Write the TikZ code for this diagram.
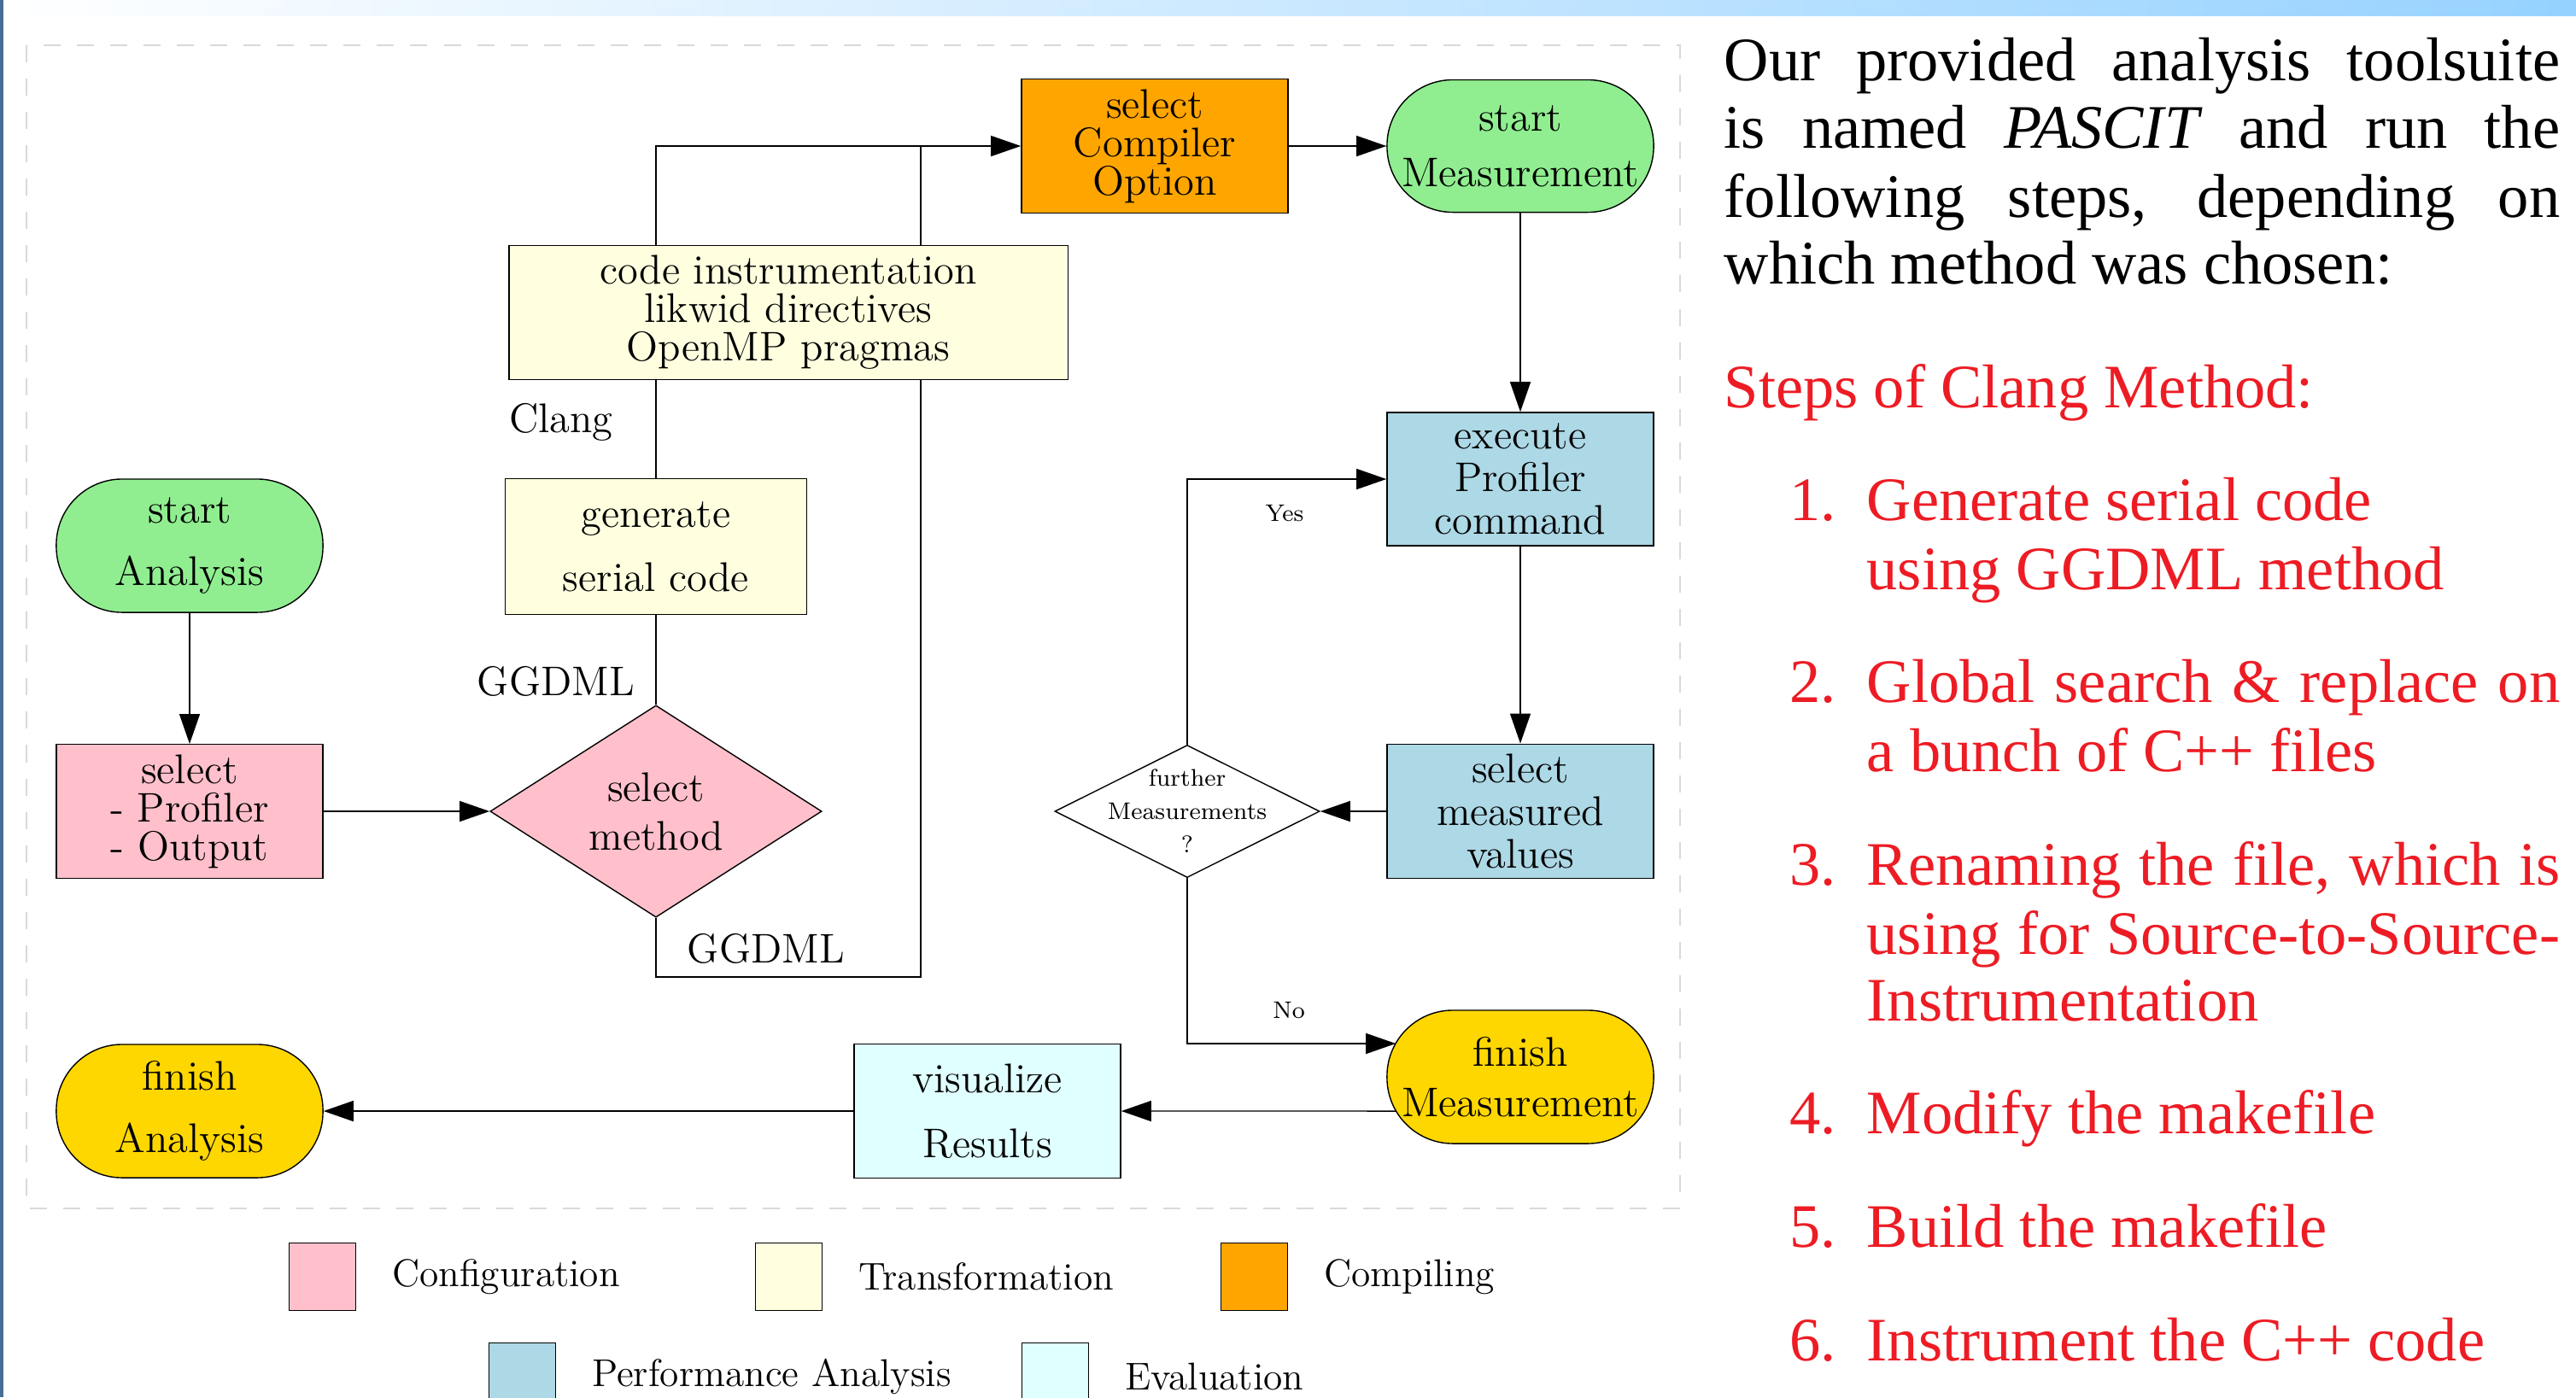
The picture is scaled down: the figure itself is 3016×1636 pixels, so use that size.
\documentclass[tikz,border=0pt]{standalone}
\usepackage{fontspec}
\newfontfamily\slidefont{Liberation Serif}
\usetikzlibrary{shapes.geometric,arrows.meta}

\definecolor{cfgpink}{RGB}{255,192,203}
\definecolor{trfyellow}{RGB}{255,255,224}
\definecolor{cmporange}{RGB}{255,165,0}
\definecolor{startgreen}{RGB}{144,238,144}
\definecolor{perfblue}{RGB}{173,216,230}
\definecolor{evalcyan}{RGB}{224,255,255}
\definecolor{endgold}{RGB}{255,215,0}
\definecolor{stepred}{RGB}{237,28,36}
\definecolor{barblue}{RGB}{150,210,255}
\definecolor{sideblue}{RGB}{72,110,150}

\newcommand{\fillline}[2][9.78cm]{\makebox[#1][s]{#2}}

\begin{document}
\begin{tikzpicture}[x=0.01cm,y=-0.01cm,
    boxbase/.style={draw, align=center, font=\fontsize{13.8}{12.8}\selectfont},
    term/.style={boxbase, rectangle, rounded corners=0.77cm, minimum width=3.12cm, minimum height=1.56cm},
    proc/.style={boxbase, rectangle, minimum width=3.12cm, minimum height=1.56cm},
    decide/.style={boxbase, diamond, inner sep=0pt},
    arr/.style={-{Triangle[length=0.35cm,width=0.24cm]}},
    lbl/.style={font=\fontsize{13.8}{12.8}\selectfont},
    tinytext/.style={font=\fontsize{8}{11.1}\selectfont},
    swatch/.style={draw, minimum width=0.78cm, minimum height=0.79cm, inner sep=0pt},
    legtext/.style={anchor=west, inner sep=0pt, font=\fontsize{12.9}{14}\selectfont},
    framedash/.style={draw=black!15, line width=0.45pt, dash pattern=on 0.2cm off 0.19cm},
    intro/.style={anchor=base west, inner sep=0pt,
      font=\slidefont\fontsize{20.6}{24}\selectfont}]
  % slide decoration
  \useasboundingbox (0,0) rectangle (3016,1636);
  \shade[left color=white, right color=barblue] (0,0) rectangle (3016,18);
  \fill[sideblue] (0,0) rectangle (4,1636);
  \draw[framedash] (31,53) rectangle (1967,1415);

  % flow chart
  \node[term, fill=startgreen] (startA) at (222,639) {start\\[8pt]Analysis};
  \node[proc, fill=cfgpink] (selProf) at (222,950) {select\\- Profiler\\- Output};
  \node[decide, fill=cfgpink, minimum width=3.88cm, minimum height=2.33cm] (method) at (768,950) {select\\[3.4pt]method};
  \node[proc, fill=trfyellow, minimum width=3.53cm, minimum height=1.59cm] (gen) at (768,640) {generate\\[8.5pt]serial code};
  \node[proc, fill=trfyellow, minimum width=6.54cm, minimum height=1.53cm] (code) at (923,366) {code instrumentation\\likwid directives\\OpenMP pragmas};
  \node[proc, fill=cmporange, minimum height=1.55cm] (compile) at (1352,171) {select\\Compiler\\Option};
  \node[term, fill=startgreen, minimum height=1.55cm] (startM) at (1780,171) {start\\[5.7pt]Measurement};
  \node[proc, fill=perfblue] (exec) at (1780,561) {execute\\[1.4pt]Profiler\\[1.4pt]command};
  \node[proc, fill=perfblue] (meas) at (1780,950) {select\\[1.4pt]measured\\[1.4pt]values};
  \node[decide, minimum width=3.10cm, minimum height=1.55cm,
    label={[name=furtherTxt, tinytext, align=center]center:further\\Measurements\\?}] (further) at (1390,950) {};
  \node[term, fill=endgold] (finishM) at (1780,1261) {finish\\[4pt]Measurement};
  \node[proc, fill=evalcyan, minimum height=1.57cm] (vis) at (1156,1301) {visualize\\[9pt]Results};
  \node[term, fill=endgold] (finishA) at (222,1301) {finish\\[8pt]Analysis};

  % connections
  \draw[arr] (startA) -- (selProf);
  \draw[arr] (selProf) -- (method);
  \draw (method.north) -- (gen.south);
  \draw (gen.north) -- (gen.north |- code.south);
  \draw[arr] (gen.north |- code.north) |- (compile.west);
  \coordinate (ggTurn) at (1078,1144);
  \draw (method.south) |- (ggTurn) -- (ggTurn |- code.south);
  \draw (ggTurn |- code.north) -- (ggTurn |- compile.west);
  \draw[arr] (compile) -- (startM);
  \draw[arr] (startM) -- (exec);
  \draw[arr] (exec) -- (meas);
  \draw[arr] (meas) -- (further);
  \draw[arr] (further.north) |- (exec.west);
  \coordinate (fmIn) at ([xshift=0.11cm,yshift=0.39cm]finishM.west);
  \coordinate (fmOut) at ([xshift=0.11cm,yshift=-0.40cm]finishM.west);
  \draw[arr] (further.south) |- (fmIn);
  \draw[arr] (fmOut) -- (vis.east);
  \draw[arr] (vis) -- (finishA);

  % path labels
  \node[lbl] (lClang) at (657,494) {Clang};
  \node[lbl] (lGGup) at (651,798) {GGDML};
  \node[lbl] (lGGdown) at (897,1111) {GGDML};
  \node[tinytext] (lYes) at (1504,601) {Yes};
  \node[tinytext] (lNo) at (1509,1183) {No};

  % legend
  \foreach \xx/\yy/\col/\name [count=\i] in {338/1495/cfgpink/Configuration,
      884/1495/trfyellow/Transformation, 1429/1495/cmporange/Compiling,
      572/1612/perfblue/Performance Analysis, 1196/1612/evalcyan/Evaluation} {
    \node[swatch, fill=\col, anchor=west] (sw\i) at (\xx,\yy) {};
    \node[legtext] (leg\i) at ([xshift=0.41cm]sw\i.east) {\name};
  }

  % text on the right
  \foreach \yy/\txt [count=\i] in {94/{\fillline{Our provided analysis toolsuite}},
      173/{\fillline{is named \textit{PASCIT} and run the}},
      254/{\fillline{following steps, depending on}},
      332/{which method was chosen:}}
    \node[intro] (intro\i) at (2018,\yy) {\txt};
  \node[intro, text=stepred] (stepHead) at (2018,477) {Steps of Clang Method:};
  \foreach \yy/\num [count=\i] in {609/1, 822/2, 1036/3, 1327/4, 1460/5, 1593/6}
    \node[intro, anchor=base east, text=stepred] (num\i) at (2150,\yy) {\num.};
  \foreach \yy/\txt [count=\i] in {609/{Generate serial code}, 690/{using GGDML method},
      822/{\fillline[8.11cm]{Global search \& replace on}}, 903/{a bunch of C++ files},
      1036/{\fillline[8.11cm]{Renaming the file, which is}},
      1117/{\fillline[8.11cm]{using for Source-to-Source-}}, 1195/{Instrumentation},
      1327/{Modify the makefile}, 1460/{Build the makefile}, 1593/{Instrument the C++ code}}
    \node[intro, text=stepred] (step\i) at (2185,\yy) {\txt};
\end{tikzpicture}
\end{document}
